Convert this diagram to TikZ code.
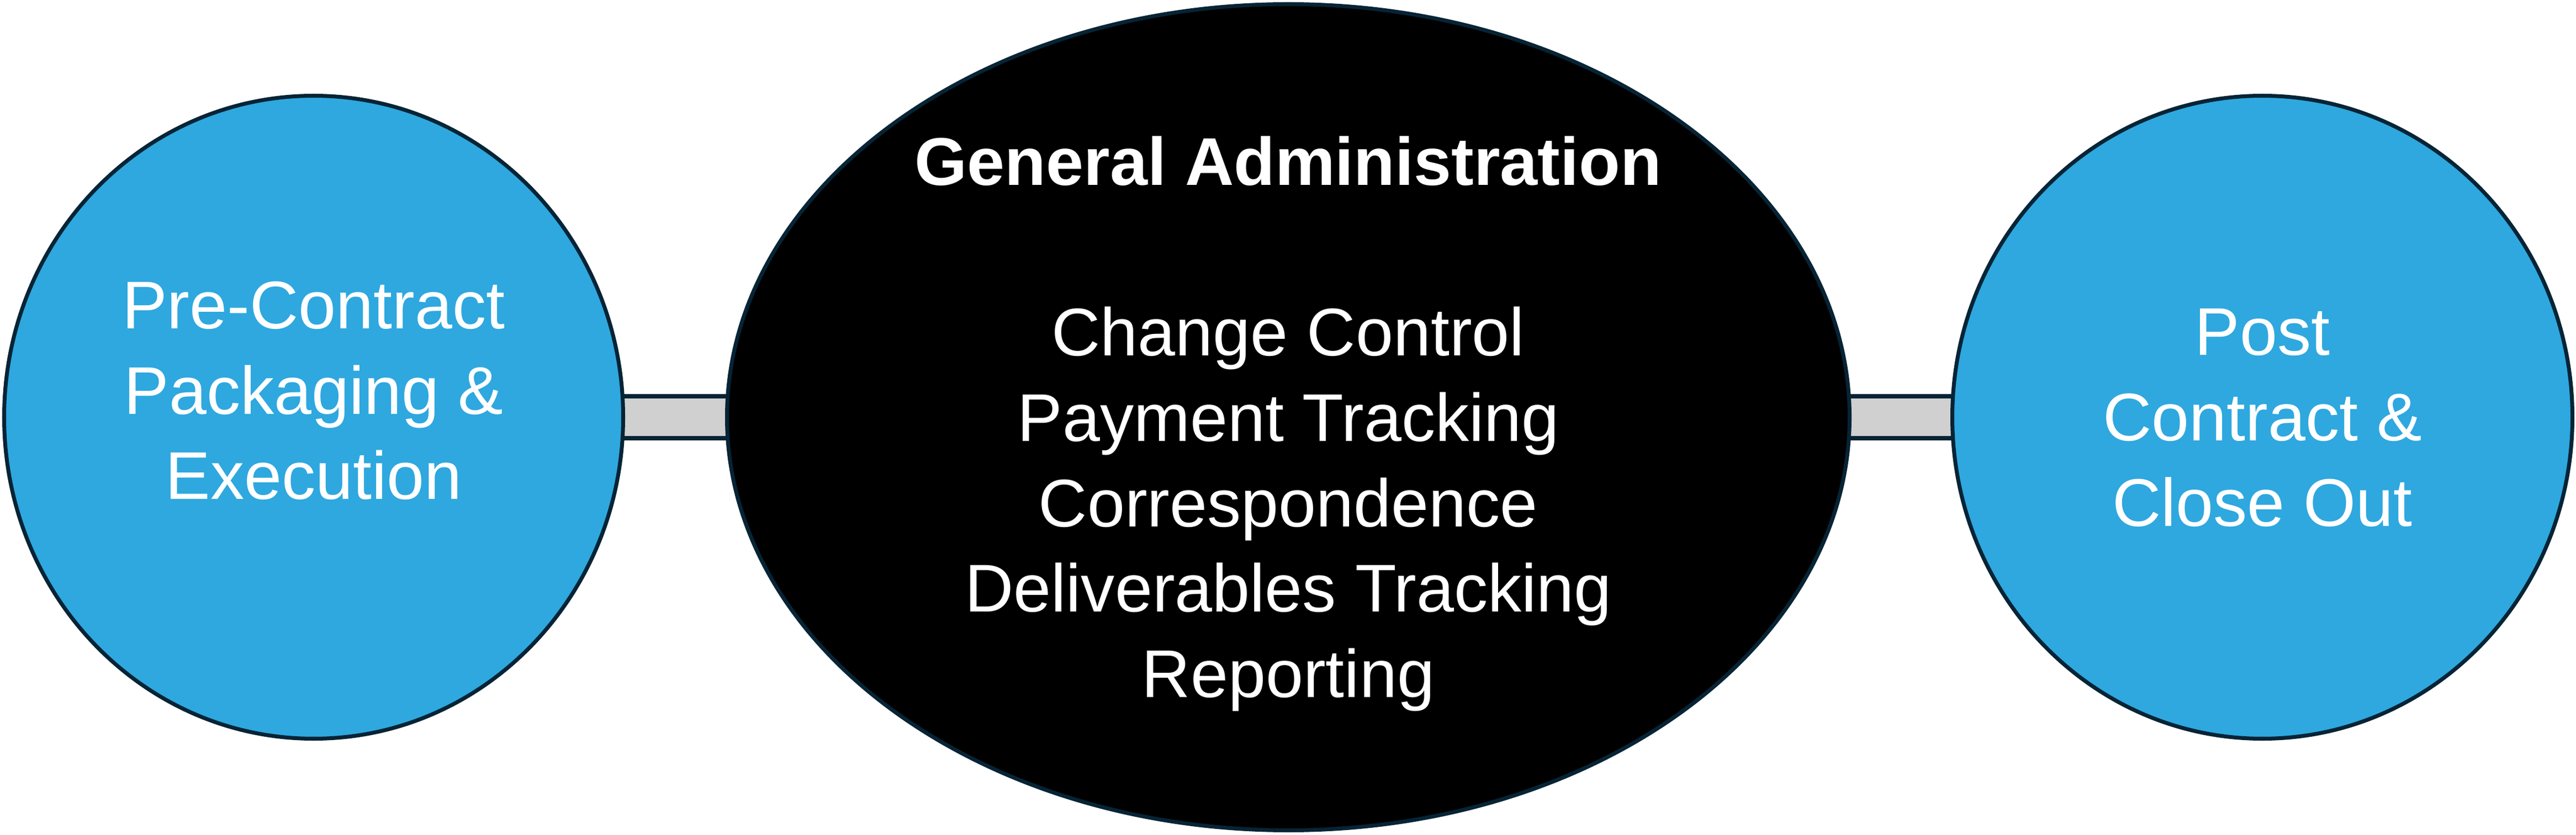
\documentclass[tikz,border=0pt]{standalone}
\usepackage{fontspec}
\setmainfont{Liberation Sans}
\usetikzlibrary{shapes.geometric, backgrounds, calc}
\definecolor{phaseblue}{HTML}{2EA8DF}
\definecolor{rimnavy}{HTML}{062435}
\definecolor{linkgray}{HTML}{D0D0D0}
\tikzset{phase/.style={ellipse, draw=rimnavy, line width=2pt, fill=phaseblue, inner sep=0pt}}
\tikzset{lbl/.style={text=white, align=center, font=\fontsize{34.8}{44}\selectfont}}
\tikzset{link/.style={draw=rimnavy, line width=2pt, fill=linkgray}}

\begin{document}
\begin{tikzpicture}
    \useasboundingbox (0,0) rectangle (46.65,15.12);
    \node[phase, minimum width=11.21cm, minimum height=11.65cm] (pre) at (5.68,7.56) {};
    \node[phase, fill=black, minimum width=20.33cm, minimum height=14.97cm] (gen) at (23.33,7.56) {};
    \node[phase, minimum width=11.23cm, minimum height=11.65cm] (post) at (40.97,7.56) {};

    \node[lbl] (preText) at (5.68,8.04) {Pre-Contract\\Packaging \&\\Execution};
    \node[lbl] (genText) at (23.33,7.44) {\textbf{General Administration}\\[44pt]Change Control\\Payment Tracking\\Correspondence\\Deliverables Tracking\\Reporting};
    \node[lbl] (postText) at (40.97,7.55) {Post\\Contract \&\\Close Out};

    \begin{scope}[on background layer]
        \draw[link] ($(pre.center)+(0,0.38)$) rectangle ($(gen.center)-(0,0.38)$);
        \draw[link] ($(gen.center)+(0,0.38)$) rectangle ($(post.center)-(0,0.38)$);
    \end{scope}
\end{tikzpicture}
\end{document}
